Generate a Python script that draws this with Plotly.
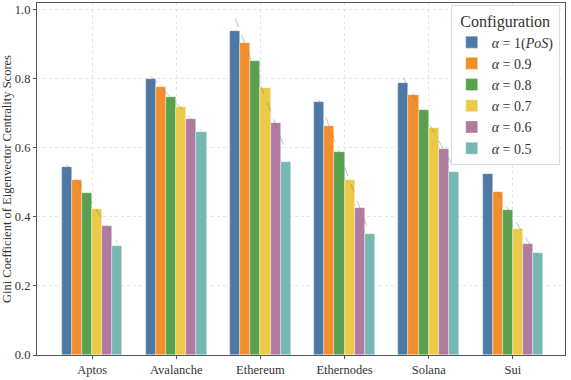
"""Gini coefficient of eigenvector centrality, grouped by chain and alpha."""

import numpy as np
import plotly.graph_objects as go

# data
chains = ["Aptos", "Avalanche", "Ethereum", "Ethernodes", "Solana", "Sui"]
configs = ["<i>α</i> = 1(<i>PoS</i>)", "<i>α</i> = 0.9", "<i>α</i> = 0.8",
           "<i>α</i> = 0.7", "<i>α</i> = 0.6", "<i>α</i> = 0.5"]
alpha_1 = [0.544, 0.801, 0.939, 0.734, 0.789, 0.524]
alpha_09 = [0.507, 0.777, 0.905, 0.665, 0.753, 0.473]
alpha_08 = [0.468, 0.749, 0.853, 0.588, 0.709, 0.419]
alpha_07 = [0.423, 0.720, 0.775, 0.506, 0.657, 0.366]
alpha_06 = [0.373, 0.685, 0.673, 0.426, 0.597, 0.323]
alpha_05 = [0.317, 0.645, 0.558, 0.351, 0.529, 0.297]
colors = ["#4e79a7", "#f28e2b", "#59a14f", "#edc948", "#b07aa1", "#76b7b2"]

FONT = "Liberation Serif, DejaVu Serif, serif"


def main():
    series = [alpha_1, alpha_09, alpha_08, alpha_07, alpha_06, alpha_05]
    w = 0.12
    xc = np.arange(len(chains))
    fig = go.Figure()

    for j, (name, vals) in enumerate(zip(configs, series)):
        fig.add_trace(go.Bar(
            x=xc + (j - 2.5) * w, y=vals, width=w, name=name,
            marker=dict(color=colors[j], line=dict(color="rgba(255,255,255,0.6)", width=0.6)),
        ))

    # dashed linear trend per chain
    offs = (np.arange(6) - 2.5) * w
    for i in range(len(chains)):
        ys = np.array([s[i] for s in series])
        k, b = np.polyfit(np.arange(6), ys, 1)
        fit = k * np.arange(6) + b
        fig.add_trace(go.Scatter(
            x=[xc[i] + offs[0], xc[i] + offs[-1]], y=[fit[0], fit[-1]],
            mode="lines", showlegend=False, hoverinfo="skip",
            line=dict(color="rgba(120,120,120,0.6)", width=0.8, dash="dash"),
        ))

    fig.update_layout(
        width=571, height=380,
        margin=dict(l=35, r=6, t=2, b=25),
        plot_bgcolor="white", paper_bgcolor="white",
        font=dict(family=FONT, size=12, color="#333"),
        bargap=0, barmode="overlay",
        legend=dict(
            title=dict(text="Configuration", font=dict(size=16), side="top center"),
            x=0.99, y=0.995, xanchor="right", yanchor="top",
            bgcolor="rgba(255,255,255,0.9)", bordercolor="#dddddd", borderwidth=1,
            font=dict(size=14), itemwidth=30, tracegroupgap=0,
        ),
        xaxis=dict(
            tickvals=list(xc), ticktext=chains, range=[-0.655, 5.62],
            showgrid=True, gridcolor="#e4e4e4", griddash="dot", gridwidth=1,
            showline=True, linecolor="#555", linewidth=1.2, mirror=True,
            ticks="outside", ticklen=3, tickcolor="#555",
            tickfont=dict(size=12.5), zeroline=False,
        ),
        yaxis=dict(
            title=dict(text="Gini Coefficient of Eigenvector Centrality Scores",
                       font=dict(size=12.5), standoff=4),
            range=[0, 1.02], tickvals=[0, 0.2, 0.4, 0.6, 0.8, 1.0],
            tickformat=".1f",
            showgrid=True, gridcolor="#e4e4e4", griddash="dot", gridwidth=1,
            showline=True, linecolor="#555", linewidth=1.2, mirror=True,
            ticks="outside", ticklen=3, tickcolor="#555",
            tickfont=dict(size=12.5), zeroline=False,
        ),
    )
    fig.write_html("out.html", config={"displayModeBar": False},
                   post_script="document.body.style.margin='0';"
                               "document.body.style.overflow='hidden';")


if __name__ == "__main__":
    main()
